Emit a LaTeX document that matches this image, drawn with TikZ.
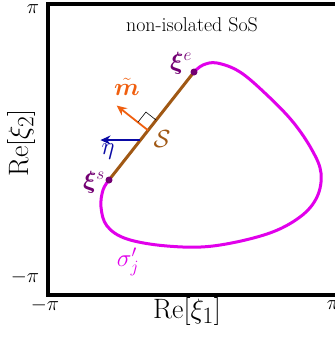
\documentclass[tikz,border=0pt]{standalone}
\usepackage{amsmath,bm}
\usetikzlibrary{arrows.meta,calc}
\definecolor{mag}{RGB}{225,0,235}
\definecolor{brn}{RGB}{160,88,20}
\definecolor{pur}{RGB}{115,0,115}
\definecolor{org}{RGB}{240,95,15}
\definecolor{nav}{RGB}{10,10,165}
\tikzset{
  tick/.style={inner sep=0pt,font=\fontsize{21}{24}\selectfont},
  axlab/.style={inner sep=0pt,scale=1.13,font=\fontsize{24.88}{28}\selectfont},
  pt/.style={circle,fill=pur,inner sep=0pt,minimum size=7bp},
  arr/.style={line width=1.8bp,-{Stealth[length=10bp,width=9bp]}},
  lab/.style={inner sep=0pt,font=\fontsize{24}{28}\selectfont},
}
\begin{document}
\begin{tikzpicture}[x=1bp,y=-1bp]
\clip (0,0) rectangle (335,337);
\fill[white] (0,0) rectangle (335,337);
% frame
\draw[line width=3.2bp] (48,4) rectangle (345,295);
% ticks
\node[tick] (t1) at (33,9) {$\pi$};
\node[tick] (t2) at (25,277) {$-\pi$};
\node[tick] (t3) at (45,305) {$-\pi$};
\node[tick] (t4) at (333,305) {$\pi$};
\node[axlab] (xl) at (187,311) {$\mathrm{Re}[\xi_1]$};
\node[axlab,rotate=90] (yl) at (21,143) {$\mathrm{Re}[\xi_2]$};
\node[inner sep=0pt,font=\fontsize{20}{24}\selectfont] (title) at (192,25) {non-isolated SoS};
% curve
\draw[mag,line width=3bp,line cap=round] plot[smooth,tension=0.6] coordinates {
 (194,72) (203,65) (217,63) (240,72) (267,95) (293,122) (312,150) (321,173) (317,197)
 (300,217) (267,234) (213,246) (167,246) (127,239) (107,226) (101,207) (103,190) (109,180)};
% segment
\coordinate (s) at (109,180);
\coordinate (e) at (194,72);
\draw[brn,line width=3bp] (s) -- (e);
\node[pt] (ps) at (s) {};
\node[pt] (pe) at (e) {};
% normal arrow
\coordinate (b) at ($(s)!0.46!(e)$);
\coordinate (mt) at ($(b)!40bp!90:(e)$);
\draw[org,arr] (b) -- (mt);
\coordinate (c1) at ($(b)!13bp!(e)$);
\coordinate (c3) at ($(b)!13bp!(mt)$);
\coordinate (c2) at ($(c1)+(c3)-(b)$);
\draw[line width=0.6bp] (c3) -- (c2) -- (c1);
% eta arrow
\coordinate (bb) at ($(s)!0.37!(e)$);
\coordinate (et) at ($(bb)+(-40,0)$);
\draw[nav,arr] (bb) -- (et);
% labels
\node[lab,text=pur] (le) at (181,63) {$\bm{\xi}^e$};
\node[lab,text=pur] (ls) at (94,182) {$\bm{\xi}^s$};
\node[lab,text=org] (lm) at (127,87) {$\tilde{\bm{m}}$};
\node[lab,text=brn] (lS) at (162,139) {$\mathcal{S}$};
\node[lab,text=nav] (leta) at (108,152) {$\eta$};
\node[lab,text=mag] (lsig) at (128,262) {$\sigma_j'$};
\end{tikzpicture}
\end{document}
